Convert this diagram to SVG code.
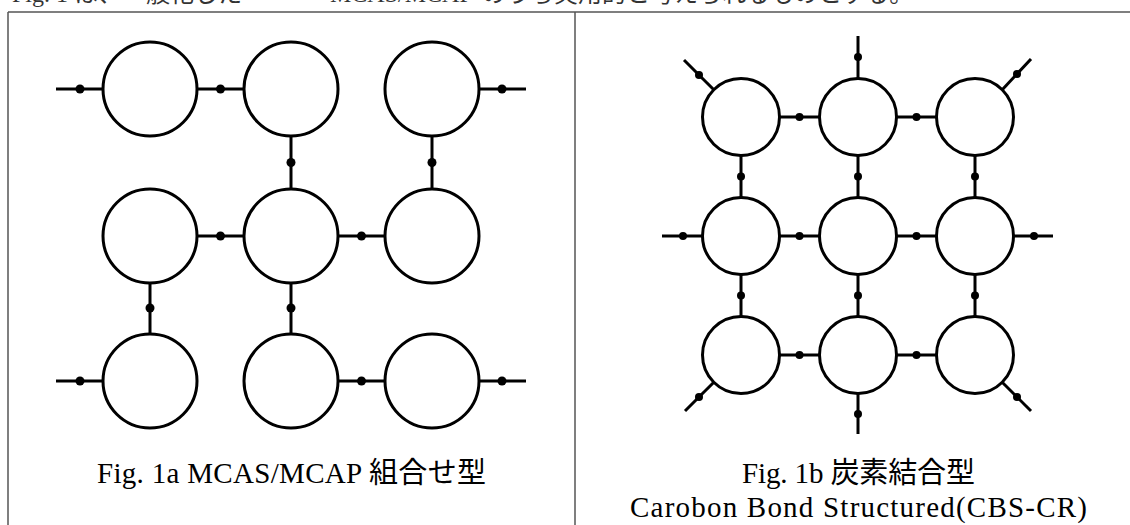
<svg xmlns="http://www.w3.org/2000/svg" width="1130" height="525" viewBox="0 0 1130 525">
<style>
.frame{stroke:#555;stroke-width:1.5;fill:none}
.node{fill:#fff;stroke:#000;stroke-width:3}
.edge{stroke:#000;stroke-width:3;fill:none}
.dot{fill:#000}
.cap{font-family:"Liberation Serif","Noto Sans CJK JP",serif;font-size:29px;fill:#000}
.top{font-family:"Liberation Serif","Noto Sans CJK JP",serif;font-size:24px;fill:#333}
</style>
<rect width="1130" height="525" fill="#fff"/>
<text class="top" y="2"><tspan x="12">Fig. 1 は、一般化した</tspan><tspan x="330">MCAS/MCAP</tspan><tspan x="482">のうち実用的と考えられるものとする。</tspan></text>
<g id="frame">
<line class="frame" x1="8" y1="12" x2="1130" y2="12"/>
<line class="frame" x1="8" y1="12" x2="8" y2="525"/>
<line class="frame" x1="575" y1="12" x2="575" y2="525"/>
</g>
<g id="connectors">
<g id="connectors-a">
<line class="edge" x1="56" y1="89" x2="103" y2="89"/><circle class="dot" cx="80" cy="89" r="4.5"/>
<line class="edge" x1="197" y1="89" x2="244" y2="89"/><circle class="dot" cx="220.5" cy="89" r="4.5"/>
<line class="edge" x1="479" y1="89" x2="526" y2="89"/><circle class="dot" cx="502" cy="89" r="4.5"/>
<line class="edge" x1="291" y1="136" x2="291" y2="189"/><circle class="dot" cx="291" cy="162.5" r="4.5"/>
<line class="edge" x1="432" y1="136" x2="432" y2="189"/><circle class="dot" cx="432" cy="162.5" r="4.5"/>
<line class="edge" x1="197" y1="236" x2="244" y2="236"/><circle class="dot" cx="220.5" cy="236" r="4.5"/>
<line class="edge" x1="338" y1="236" x2="385" y2="236"/><circle class="dot" cx="361.5" cy="236" r="4.5"/>
<line class="edge" x1="150" y1="283" x2="150" y2="334"/><circle class="dot" cx="150" cy="308" r="4.5"/>
<line class="edge" x1="291" y1="283" x2="291" y2="334"/><circle class="dot" cx="291" cy="308" r="4.5"/>
<line class="edge" x1="56" y1="381" x2="103" y2="381"/><circle class="dot" cx="80" cy="381" r="4.5"/>
<line class="edge" x1="338" y1="381" x2="385" y2="381"/><circle class="dot" cx="361.5" cy="381" r="4.5"/>
<line class="edge" x1="479" y1="381" x2="526" y2="381"/><circle class="dot" cx="502" cy="381" r="4.5"/>
</g>
<g id="connectors-b">
<line class="edge" x1="779.5" y1="117" x2="819.5" y2="117"/><circle class="dot" cx="799.5" cy="117" r="4"/>
<line class="edge" x1="896.5" y1="117" x2="936.5" y2="117"/><circle class="dot" cx="916.5" cy="117" r="4"/>
<line class="edge" x1="779.5" y1="236" x2="819.5" y2="236"/><circle class="dot" cx="799.5" cy="236" r="4"/>
<line class="edge" x1="896.5" y1="236" x2="936.5" y2="236"/><circle class="dot" cx="916.5" cy="236" r="4"/>
<line class="edge" x1="779.5" y1="355" x2="819.5" y2="355"/><circle class="dot" cx="799.5" cy="355" r="4"/>
<line class="edge" x1="896.5" y1="355" x2="936.5" y2="355"/><circle class="dot" cx="916.5" cy="355" r="4"/>
<line class="edge" x1="741" y1="155.5" x2="741" y2="197.5"/><circle class="dot" cx="741" cy="176.5" r="4"/>
<line class="edge" x1="858" y1="155.5" x2="858" y2="197.5"/><circle class="dot" cx="858" cy="176.5" r="4"/>
<line class="edge" x1="975" y1="155.5" x2="975" y2="197.5"/><circle class="dot" cx="975" cy="176.5" r="4"/>
<line class="edge" x1="741" y1="274.5" x2="741" y2="316.5"/><circle class="dot" cx="741" cy="295.5" r="4"/>
<line class="edge" x1="858" y1="274.5" x2="858" y2="316.5"/><circle class="dot" cx="858" cy="295.5" r="4"/>
<line class="edge" x1="975" y1="274.5" x2="975" y2="316.5"/><circle class="dot" cx="975" cy="295.5" r="4"/>
<line class="edge" x1="858" y1="36" x2="858" y2="78.5"/><circle class="dot" cx="858" cy="57" r="4"/>
<line class="edge" x1="858" y1="393.5" x2="858" y2="434"/><circle class="dot" cx="858" cy="414" r="4"/>
<line class="edge" x1="662" y1="236" x2="702.5" y2="236"/><circle class="dot" cx="683" cy="236" r="4"/>
<line class="edge" x1="1013.5" y1="236" x2="1053" y2="236"/><circle class="dot" cx="1034" cy="236" r="4"/>
<line class="edge" x1="713.8" y1="89.8" x2="684" y2="60"/><circle class="dot" cx="699" cy="75" r="4"/>
<line class="edge" x1="1002.2" y1="89.8" x2="1031" y2="59"/><circle class="dot" cx="1017" cy="74" r="4"/>
<line class="edge" x1="713.8" y1="382.2" x2="685" y2="411"/><circle class="dot" cx="699" cy="397" r="4"/>
<line class="edge" x1="1002.2" y1="382.2" x2="1031" y2="411"/><circle class="dot" cx="1017" cy="397" r="4"/>
</g>
</g>
<g id="a-r1c1"><circle class="node" cx="150" cy="89" r="47"/></g>
<g id="a-r1c2"><circle class="node" cx="291" cy="89" r="47"/></g>
<g id="a-r1c3"><circle class="node" cx="432" cy="89" r="47"/></g>
<g id="a-r2c1"><circle class="node" cx="150" cy="236" r="47"/></g>
<g id="a-r2c2"><circle class="node" cx="291" cy="236" r="47"/></g>
<g id="a-r2c3"><circle class="node" cx="432" cy="236" r="47"/></g>
<g id="a-r3c1"><circle class="node" cx="150" cy="381" r="47"/></g>
<g id="a-r3c2"><circle class="node" cx="291" cy="381" r="47"/></g>
<g id="a-r3c3"><circle class="node" cx="432" cy="381" r="47"/></g>
<g id="b-r1c1"><circle class="node" cx="741" cy="117" r="38.5"/></g>
<g id="b-r1c2"><circle class="node" cx="858" cy="117" r="38.5"/></g>
<g id="b-r1c3"><circle class="node" cx="975" cy="117" r="38.5"/></g>
<g id="b-r2c1"><circle class="node" cx="741" cy="236" r="38.5"/></g>
<g id="b-r2c2"><circle class="node" cx="858" cy="236" r="38.5"/></g>
<g id="b-r2c3"><circle class="node" cx="975" cy="236" r="38.5"/></g>
<g id="b-r3c1"><circle class="node" cx="741" cy="355" r="38.5"/></g>
<g id="b-r3c2"><circle class="node" cx="858" cy="355" r="38.5"/></g>
<g id="b-r3c3"><circle class="node" cx="975" cy="355" r="38.5"/></g>
<g id="captions">
<text class="cap" x="97" y="483" textLength="389" lengthAdjust="spacing">Fig. 1a MCAS/MCAP 組合せ型</text>
<text class="cap" x="742" y="483" textLength="233" lengthAdjust="spacing">Fig. 1b 炭素結合型</text>
<text class="cap" x="630" y="517" textLength="457" lengthAdjust="spacing">Carobon Bond Structured(CBS-CR)</text>
</g>
</svg>
